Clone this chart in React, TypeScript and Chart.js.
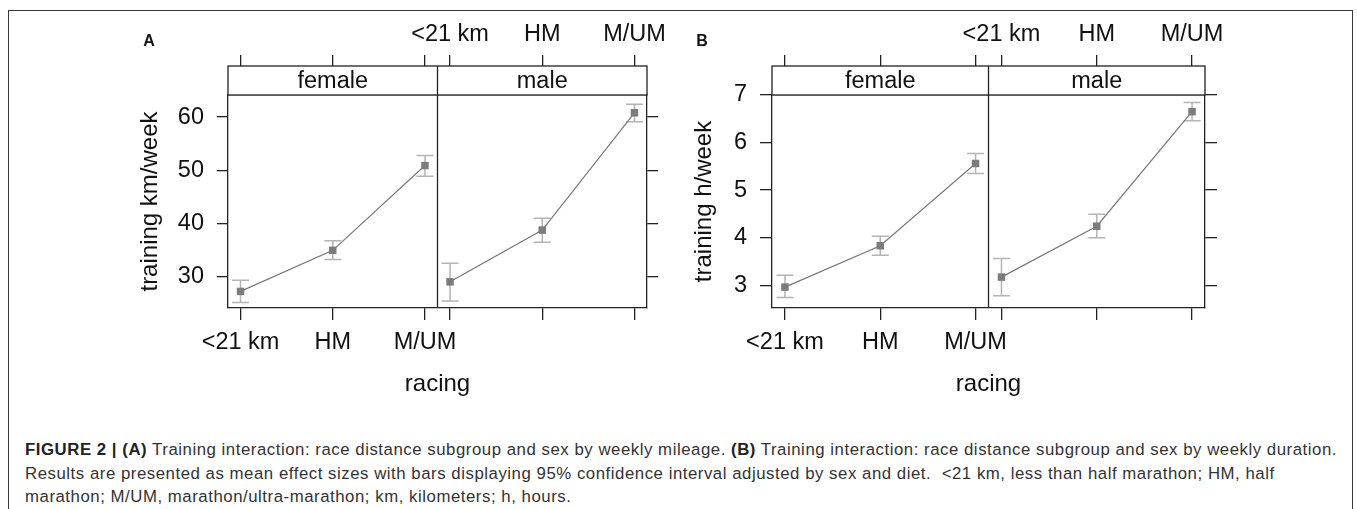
import React, { useEffect, useLayoutEffect, useRef } from 'react';
import { Chart, registerables } from 'chart.js';

Chart.register(...registerables);

// ---------- data ----------
const racing = ['<21 km', 'HM', 'M/UM'];
const sexes = ['female', 'male'];

const kmFemale = [27.3, 35.0, 50.9];
const kmFemaleLow = [25.2, 33.3, 48.9];
const kmFemaleHigh = [29.4, 36.8, 52.8];
const kmMale = [29.1, 38.8, 60.8];
const kmMaleLow = [25.5, 36.5, 59.1];
const kmMaleHigh = [32.6, 41.0, 62.4];
const kmTicks = [30, 40, 50, 60];
const kmRange = [24.19, 64.13];

const hFemale = [2.96, 3.83, 5.56];
const hFemaleLow = [2.74, 3.63, 5.35];
const hFemaleHigh = [3.21, 4.03, 5.77];
const hMale = [3.17, 4.24, 6.65];
const hMaleLow = [2.78, 4.0, 6.46];
const hMaleHigh = [3.56, 4.49, 6.84];
const hTicks = [3, 4, 5, 6, 7];
const hRange = [2.52, 7.0];

const yTitleA = 'training km/week';
const yTitleB = 'training h/week';
const xTitle = 'racing';

const captionLine1Parts: [string, boolean][] = [
  ['FIGURE 2 | (A)', true],
  [' Training interaction: race distance subgroup and sex by weekly mileage. ', false],
  ['(B)', true],
  [' Training interaction: race distance subgroup and sex by weekly duration.', false],
];
const captionLine2 =
  'Results are presented as mean effect sizes with bars displaying 95% confidence interval adjusted by sex and diet.  <21 km, less than half marathon; HM, half';
const captionLine3 = 'marathon; M/UM, marathon/ultra-marathon; km, kilometers; h, hours.';

// ---------- layout / style ----------
const FONT = '"Liberation Sans", Arial, Helvetica, sans-serif';
const FRAME = '#222222';
const TEXT = '#111111';
const POINT = '#7c7c7c';
const LINE = '#777777';
const ERR = '#b4b4b4';
const facetPad = 0.136; // panel padding around categories, in category units
const facetWidth = racing.length - 1 + 2 * facetPad;
const CANVAS_H = 420;
const TOP_AXIS_H = 95;
const BOTTOM_AXIS_H = CANVAS_H - 308;
const STRIP_H = 29;

const xMin = -facetPad;
const xMax = sexes.length * facetWidth - facetPad;
const tickPositions: number[] = [];
sexes.forEach((_, f) => racing.forEach((__, i) => tickPositions.push(f * facetWidth + i)));

type Series = { mean: number[]; low: number[]; high: number[] };

type PanelCfg = {
  yTitle: string;
  series: Series[];
  yTicks: number[];
  yRange: number[];
  canvasLeft: number;
  canvasWidth: number;
  leftW: number;
  rightW: number;
  yTitlePad: number;
  tickLen: number;
};

const panels: PanelCfg[] = [
  {
    yTitle: yTitleA,
    series: [
      { mean: kmFemale, low: kmFemaleLow, high: kmFemaleHigh },
      { mean: kmMale, low: kmMaleLow, high: kmMaleHigh },
    ],
    yTicks: kmTicks,
    yRange: kmRange,
    canvasLeft: 0,
    canvasWidth: 680,
    leftW: 228,
    rightW: 680 - 647,
    yTitlePad: 136,
    tickLen: 11,
  },
  {
    yTitle: yTitleB,
    series: [
      { mean: hFemale, low: hFemaleLow, high: hFemaleHigh },
      { mean: hMale, low: hMaleLow, high: hMaleHigh },
    ],
    yTicks: hTicks,
    yRange: hRange,
    canvasLeft: 680,
    canvasWidth: 677,
    leftW: 772 - 680,
    rightW: 680 + 677 - 1205,
    yTitlePad: 9.6,
    tickLen: 12,
  },
];

const tickFont = { family: FONT, size: 23.5 };
const titleFont = { family: FONT, size: 24 };

function buildChart(canvas: HTMLCanvasElement, p: PanelCfg) {
  const datasets = p.series.map((s, f) => ({
    data: s.mean.map((y, i) => ({ x: f * facetWidth + i, y })),
    errLow: s.low,
    errHigh: s.high,
    borderColor: LINE,
    borderWidth: 1.2,
    pointStyle: 'rect',
    pointRadius: 5.3,
    pointHoverRadius: 5.3,
    pointBackgroundColor: POINT,
    pointBorderColor: POINT,
    pointBorderWidth: 0,
    tension: 0,
    fill: false,
    xAxisID: 'x',
    yAxisID: 'y',
  }));

  const errorBars = {
    id: 'errorBars',
    beforeDatasetsDraw(chart: any) {
      const { ctx, scales } = chart;
      ctx.save();
      ctx.strokeStyle = ERR;
      ctx.lineWidth = 1.5;
      chart.data.datasets.forEach((ds: any, di: number) => {
        const meta = chart.getDatasetMeta(di);
        meta.data.forEach((pt: any, j: number) => {
          const x = pt.x;
          const yl = scales.y.getPixelForValue(ds.errLow[j]);
          const yh = scales.y.getPixelForValue(ds.errHigh[j]);
          const cap = 8.5;
          ctx.beginPath();
          ctx.moveTo(x, yl);
          ctx.lineTo(x, yh);
          ctx.moveTo(x - cap, yl);
          ctx.lineTo(x + cap, yl);
          ctx.moveTo(x - cap, yh);
          ctx.lineTo(x + cap, yh);
          ctx.stroke();
        });
      });
      ctx.restore();
    },
  };

  const strips = {
    id: 'strips',
    afterDraw(chart: any) {
      const { ctx, chartArea, scales } = chart;
      const top = chartArea.top - STRIP_H;
      ctx.save();
      ctx.fillStyle = '#ffffff';
      ctx.fillRect(chartArea.left, top, chartArea.right - chartArea.left, STRIP_H);
      ctx.strokeStyle = FRAME;
      ctx.lineWidth = 1.3;
      ctx.strokeRect(chartArea.left, top, chartArea.right - chartArea.left, STRIP_H);
      ctx.fillStyle = TEXT;
      ctx.font = `${tickFont.size}px ${FONT}`;
      ctx.textAlign = 'center';
      ctx.textBaseline = 'middle';
      sexes.forEach((sex, f) => {
        const l = scales.x.getPixelForValue(f * facetWidth - facetPad);
        const r = scales.x.getPixelForValue((f + 1) * facetWidth - facetPad);
        ctx.fillText(sex, (l + r) / 2, top + STRIP_H / 2 + 1);
        if (f > 0) {
          ctx.beginPath();
          ctx.moveTo(l, top);
          ctx.lineTo(l, chartArea.bottom);
          ctx.stroke();
        }
      });
      ctx.restore();
    },
  };

  const grid = (len: number) => ({
    display: true,
    drawOnChartArea: false,
    drawTicks: true,
    tickLength: len,
    color: FRAME,
    lineWidth: 1.3,
  });
  const border = { display: true, color: FRAME, width: 1.3 };

  const xCommon = {
    type: 'linear',
    min: xMin,
    max: xMax,
    bounds: 'data',
    afterBuildTicks: (s: any) => {
      s.ticks = tickPositions.map((v) => ({ value: v }));
    },
  };
  const yCommon = {
    type: 'linear',
    min: p.yRange[0],
    max: p.yRange[1],
    bounds: 'data',
    afterBuildTicks: (s: any) => {
      s.ticks = p.yTicks.map((v) => ({ value: v }));
    },
  };

  return new Chart(canvas, {
    type: 'line',
    data: { datasets } as any,
    plugins: [errorBars, strips],
    options: {
      animation: false,
      responsive: false,
      maintainAspectRatio: false,
      events: [],
      layout: { padding: 0 },
      plugins: { legend: { display: false }, tooltip: { enabled: false } },
      scales: {
        x: {
          ...xCommon,
          position: 'bottom',
          afterFit: (s: any) => {
            s.height = BOTTOM_AXIS_H;
          },
          grid: grid(12),
          border,
          ticks: {
            autoSkip: false,
            maxRotation: 0,
            minRotation: 0,
            padding: 8,
            font: tickFont,
            color: TEXT,
            callback: (_v: any, i: number) => (i < racing.length ? racing[i] : ''),
          },
          title: {
            display: true,
            text: xTitle,
            font: titleFont,
            color: TEXT,
            padding: { top: 0, bottom: 21.6 },
          },
        },
        x2: {
          ...xCommon,
          position: 'top',
          afterFit: (s: any) => {
            s.height = TOP_AXIS_H;
          },
          grid: grid(11 + STRIP_H),
          border,
          ticks: {
            autoSkip: false,
            maxRotation: 0,
            minRotation: 0,
            padding: 6,
            font: tickFont,
            color: TEXT,
            callback: (_v: any, i: number) => (i >= racing.length ? racing[i - racing.length] : ''),
          },
        },
        y: {
          ...yCommon,
          position: 'left',
          afterFit: (s: any) => {
            s.width = p.leftW;
          },
          grid: grid(p.tickLen),
          border,
          ticks: {
            autoSkip: false,
            padding: 13,
            font: tickFont,
            color: TEXT,
            callback: (v: any) => String(v),
          },
          title: {
            display: true,
            text: p.yTitle,
            font: titleFont,
            color: TEXT,
            padding: { top: p.yTitlePad, bottom: 0 },
          },
        },
        y2: {
          ...yCommon,
          position: 'right',
          afterFit: (s: any) => {
            s.width = p.rightW;
          },
          grid: grid(p.tickLen),
          border,
          ticks: {
            autoSkip: false,
            padding: 4,
            font: tickFont,
            color: TEXT,
            callback: () => '',
          },
        },
      },
    } as any,
  });
}

function Panel({ cfg }: { cfg: PanelCfg }) {
  const ref = useRef<HTMLCanvasElement>(null);
  useEffect(() => {
    if (!ref.current) return;
    const chart = buildChart(ref.current, cfg);
    return () => chart.destroy();
  }, [cfg]);
  return (
    <canvas
      ref={ref}
      width={cfg.canvasWidth}
      height={CANVAS_H}
      style={{
        position: 'absolute',
        left: cfg.canvasLeft,
        top: 0,
        width: cfg.canvasWidth,
        height: CANVAS_H,
        display: 'block',
      }}
    />
  );
}

const CAPTION_LEFT = 25;
const CAPTION_WIDTH = 1312;

export default function App() {
  const capRef = useRef<HTMLDivElement>(null);

  useLayoutEffect(() => {
    const el = capRef.current;
    if (!el) return;
    const first = el.querySelector('span.l1') as HTMLSpanElement | null;
    if (!first) return;
    el.style.letterSpacing = '0px';
    const w = first.getBoundingClientRect().width;
    const n = (first.textContent || '').length;
    el.style.letterSpacing = `${(CAPTION_WIDTH - w) / n}px`;
  }, []);

  const letter = (t: string, cx: number) => (
    <div
      style={{
        position: 'absolute',
        left: cx - 20,
        width: 40,
        top: 31,
        textAlign: 'center',
        fontFamily: FONT,
        fontWeight: 'bold',
        fontSize: 16,
        lineHeight: '20px',
        color: TEXT,
      }}
    >
      {t}
    </div>
  );

  return (
    <div
      style={{
        position: 'absolute',
        left: 0,
        top: 0,
        width: 1357,
        height: 509,
        overflow: 'hidden',
        background: '#ffffff',
      }}
    >
      <div
        style={{
          position: 'absolute',
          left: 8,
          top: 10,
          width: 1345,
          height: 520,
          border: '1px solid #3a3a3a',
          boxSizing: 'border-box',
        }}
      />
      {panels.map((p, i) => (
        <Panel key={i} cfg={p} />
      ))}
      {letter('A', 149)}
      {letter('B', 702)}
      <div
        ref={capRef}
        style={{
          position: 'absolute',
          left: CAPTION_LEFT,
          top: 438,
          fontFamily: FONT,
          fontSize: 16.8,
          lineHeight: '23.5px',
          color: '#333333',
          whiteSpace: 'pre',
        }}
      >
        <div>
          <span className="l1">
            {captionLine1Parts.map(([t, b], i) =>
              b ? (
                <b key={i} style={{ color: '#222' }}>
                  {t}
                </b>
              ) : (
                <span key={i}>{t}</span>
              )
            )}
          </span>
        </div>
        <div>
          <span>{captionLine2}</span>
        </div>
        <div>
          <span>{captionLine3}</span>
        </div>
      </div>
    </div>
  );
}
